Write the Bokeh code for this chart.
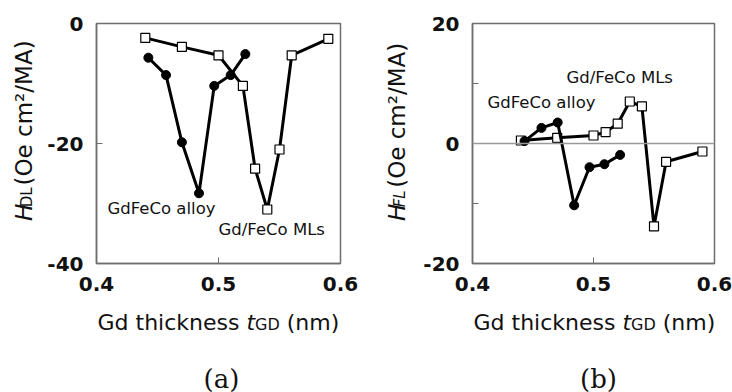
import math
from bokeh.plotting import figure
from bokeh.models import Range1d, FixedTicker, Label, Span
from bokeh.layouts import row, column
from bokeh.embed import file_html
from bokeh.resources import INLINE

# ---- data (a) H_DL ----
x_ml_a = [0.44, 0.47, 0.50, 0.52, 0.53, 0.54, 0.55, 0.56, 0.59]
hdl_ml = [-2.4, -3.9, -5.3, -10.4, -24.2, -31.0, -21.0, -5.3, -2.55]
x_alloy_a = [0.4425, 0.457, 0.47, 0.484, 0.4965, 0.51, 0.522]
hdl_alloy = [-5.7, -8.6, -19.8, -28.3, -10.4, -8.6, -5.1]

# ---- data (b) H_FL ----
x_ml_b = [0.44, 0.47, 0.50, 0.51, 0.52, 0.53, 0.54, 0.55, 0.56, 0.59]
hfl_ml = [0.5, 0.95, 1.33, 1.9, 3.3, 7.0, 6.2, -13.8, -3.05, -1.33]
x_alloy_b = [0.443, 0.457, 0.4704, 0.484, 0.4967, 0.509, 0.522]
hfl_alloy = [0.4, 2.6, 3.5, -10.3, -3.95, -3.45, -1.9]

x_ticks = [0.4, 0.5, 0.6]
ya_ticks = [-40, -20, 0]
yb_ticks = [-20, 0, 20]
yb_minor = [-10, 10]

FRAME = "#6e6e6e"
FONT = "DejaVu Sans"
TXT = "#111111"

TOP_H = 300      # height of plot row
BOT_H = 392 - TOP_H
YL_WA = 44       # width of y-label strip (a)
YL_WB = 52       # width of y-label strip (b)


def make_fig(yr, yticks, minor, fl, fw, width):
    p = figure(width=width, height=TOP_H, x_range=Range1d(0.4, 0.6), y_range=Range1d(*yr),
               output_backend="svg", toolbar_location=None, title=None,
               min_border_left=fl, min_border_right=width - fl - fw,
               min_border_top=23, min_border_bottom=TOP_H - 23 - 240)
    p.grid.visible = False
    p.outline_line_color = FRAME
    p.outline_line_width = 1.5
    p.xaxis.ticker = FixedTicker(ticks=x_ticks)
    p.yaxis.ticker = FixedTicker(ticks=yticks, minor_ticks=minor)
    p.yaxis.major_label_overrides = {t: str(t) for t in yticks}
    for ax in (p.xaxis, p.yaxis):
        ax.axis_line_color = FRAME
        ax.axis_line_width = 1.5
        ax.major_tick_line_color = FRAME
        ax.minor_tick_line_color = FRAME
        ax.major_tick_in = 6
        ax.major_tick_out = 0
        ax.minor_tick_in = 0
        ax.minor_tick_out = 0
        ax.major_label_text_font = FONT
        ax.major_label_text_font_style = "bold"
        ax.major_label_text_font_size = "20px"
        ax.major_label_text_color = TXT
    p.yaxis.minor_tick_in = 6
    p.xaxis.major_label_standoff = 13
    p.yaxis.major_label_standoff = 13
    return p


def text_fig(w, h):
    t = figure(width=w, height=h, x_range=Range1d(0, w), y_range=Range1d(0, h),
               output_backend="svg", toolbar_location=None, title=None,
               x_axis_location=None, y_axis_location=None,
               min_border_left=0, min_border_right=0, min_border_top=0, min_border_bottom=0)
    t.grid.visible = False
    t.outline_line_color = None
    return t


def put(t, px, py, text, size, style="normal", angle=0, align="left",
        baseline="alphabetic", font=FONT):
    # px, py: pixel position measured from the strip's top-left corner
    t.add_layout(Label(x=px, y=t.y_range.end - py, text=text, text_font=font,
                       text_font_size=f"{size}px", text_font_style=style, text_color=TXT,
                       angle=angle, text_align=align, text_baseline=baseline))


def label_in_plot(p, fl, fw, px, py, text, size=16.5):
    x0, x1 = p.x_range.start, p.x_range.end
    y0, y1 = p.y_range.start, p.y_range.end
    x = x0 + (px - fl) / fw * (x1 - x0)
    y = y1 - (py - 23) / 240 * (y1 - y0)
    p.add_layout(Label(x=x, y=y, text=text, text_font=FONT, text_font_size=f"{size}px",
                       text_color=TXT, text_baseline="middle"))


def draw(p, xs_ml, ys_ml, xs_al, ys_al):
    p.line(xs_ml, ys_ml, line_color="black", line_width=3)
    p.scatter(xs_ml, ys_ml, marker="square", size=9, fill_color="white",
              line_color="black", line_width=1.2)
    p.line(xs_al, ys_al, line_color="black", line_width=3)
    p.scatter(xs_al, ys_al, marker="circle", size=9, fill_color="black", line_color="black")


def xlabel(t, x0, base):
    s = 22
    x = x0
    put(t, x, base, "Gd thickness", s)
    x += 6.77 * s
    put(t, x, base, "t", s, style="italic")
    x += 0.392 * s
    put(t, x, base + 2, "GD", 16)
    x += 1.545 * 16 + 0.318 * s
    put(t, x, base, "(nm)", s)


def ylabel(t, bx, y0, sub):
    s = 23
    a = math.pi / 2
    y = y0
    put(t, bx, y, "H", s, style="italic", angle=a)
    y -= 0.752 * s
    put(t, bx + 3, y, sub, 15, style="italic" if sub == "FL" else "normal", angle=a)
    y -= (1.327 if sub == "DL" else 1.132) * 15 + 0.318 * s
    put(t, bx, y, "(Oe cm\u00b2/MA)", s, angle=a)


# ---- panel (a) ----
PWA = 366 - YL_WA
fla, fwa = 96 - YL_WA, 244
pa = make_fig((-40, 0), ya_ticks, [], fla, fwa, PWA)
draw(pa, x_ml_a, hdl_ml, x_alloy_a, hdl_alloy)
label_in_plot(pa, fla, fwa, 107 - YL_WA, 208, "GdFeCo alloy")
label_in_plot(pa, fla, fwa, 218 - YL_WA, 229, "Gd/FeCo MLs")
yla = text_fig(YL_WA, TOP_H)
ylabel(yla, 23, 247, "DL")
xla = text_fig(366, BOT_H)
xlabel(xla, 97, 322 - TOP_H)
put(xla, 221, 378 - TOP_H, "(a)", 26, align="center", baseline="middle", font="DejaVu Serif")

# ---- panel (b) ----
PWB = 366 - YL_WB
flb, fwb = 106 - YL_WB, 242
pb = make_fig((-20, 20), yb_ticks, yb_minor, flb, fwb, PWB)
pb.add_layout(Span(location=0, dimension="width", line_color="#9a9a9a", line_width=1.5))
draw(pb, x_ml_b, hfl_ml, x_alloy_b, hfl_alloy)
label_in_plot(pb, flb, fwb, 566 - 366 - YL_WB, 77, "Gd/FeCo MLs")
label_in_plot(pb, flb, fwb, 487 - 366 - YL_WB, 102, "GdFeCo alloy")
ylb = text_fig(YL_WB, TOP_H)
ylabel(ylb, 30, 247, "FL")
xlb = text_fig(366, BOT_H)
xlabel(xlb, 107, 322 - TOP_H)
put(xlb, 598 - 366, 378 - TOP_H, "(b)", 26, align="center", baseline="middle", font="DejaVu Serif")

layout = column(row(yla, pa, ylb, pb), row(xla, xlb))
open("out.html", "w").write(file_html(layout, INLINE))
